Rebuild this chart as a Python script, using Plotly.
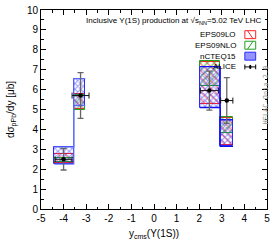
import plotly.graph_objects as go

# ---- data ----
bin_edges_bwd = [-4.41, -3.55, -3.04]
bin_edges_fwd = [2.03, 2.93, 3.5]

eps09lo_low = [2.30, 5.02, 5.30, 3.20]
eps09lo_high = [2.78, 5.80, 7.38, 4.55]
eps09nlo_low = [2.35, 4.97, 6.20, 3.80]
eps09nlo_high = [2.55, 5.72, 7.45, 4.62]
ncteq15_low = [2.26, 5.20, 5.10, 3.15]
ncteq15_high = [3.12, 6.55, 7.15, 4.48]

alice_y = [-4.0, -3.25, 2.45, 3.22]
alice_sigma = [2.50, 5.70, 5.95, 5.45]
alice_err = [0.54, 1.15, 0.98, 1.15]
alice_xerr = [0.375, 0.375, 0.40, 0.27]

xticks = [-5, -4, -3, -2, -1, 0, 1, 2, 3, 4, 5]
yticks = list(range(0, 11))

# bins
lefts = bin_edges_bwd[:-1] + bin_edges_fwd[:-1]
rights = bin_edges_bwd[1:] + bin_edges_fwd[1:]
centers = [(a + b) / 2 for a, b in zip(lefts, rights)]
widths = [b - a for a, b in zip(lefts, rights)]

fig = go.Figure()


def band(low, high, color, shape, size, solidity, name):
    fig.add_trace(go.Bar(
        x=centers, y=[h - l for l, h in zip(low, high)], base=low, width=widths,
        marker=dict(color="rgba(0,0,0,0)",
                    line=dict(color=color, width=1),
                    pattern=dict(shape=shape, fgcolor=color, bgcolor="rgba(0,0,0,0)",
                                 size=size, solidity=solidity, fillmode="overlay")),
        name=name, showlegend=False, hoverinfo="skip"))


band(eps09lo_low, eps09lo_high, "#ff2020", "\\", 5, 0.3, "EPS09LO")
band(eps09nlo_low, eps09nlo_high, "#20a020", "/", 5, 0.3, "EPS09NLO")
band(ncteq15_low, ncteq15_high, "#2a2aff", "x", 4, 0.45, "nCTEQ15")

# step outlines of the nCTEQ15 band
for sl in (slice(0, 2), slice(2, 4)):
    xs = []
    yl = []
    yh = []
    for l, r, lo, hi in zip(lefts[sl], rights[sl], ncteq15_low[sl], ncteq15_high[sl]):
        xs += [l, r]
        yl += [lo, lo]
        yh += [hi, hi]
    col = "rgba(90,110,255,0.9)" if sl.start == 0 else "#1010ee"
    for ys in (yl, yh):
        fig.add_trace(go.Scatter(x=xs, y=ys, mode="lines", line=dict(color=col, width=1.3),
                                 showlegend=False, hoverinfo="skip"))

# ALICE points
fig.add_trace(go.Scatter(
    x=alice_y, y=alice_sigma, mode="markers",
    marker=dict(color="black", size=4.5),
    error_y=dict(type="data", array=alice_err, color="#666666", thickness=1.3, width=3),
    error_x=dict(type="data", array=alice_xerr, color="#111111", thickness=1, width=3),
    showlegend=False, name="ALICE"))

axis_common = dict(showline=True, linecolor="black", linewidth=1, mirror="allticks",
                   ticks="inside", ticklen=5, tickcolor="black", showgrid=False,
                   zeroline=False, ticklabeloverflow="allow",
                   tickfont=dict(family="Liberation Sans, Arial", size=10, color="black"),
                   minor=dict(ticks="inside", ticklen=2.5, nticks=5, tickcolor="black"))

fig.update_xaxes(range=[-5, 5], tickvals=xticks, ticktext=[str(v) for v in xticks],
                 **axis_common)
fig.update_yaxes(range=[0, 10], tickvals=yticks, ticktext=[str(v) for v in yticks],
                 **axis_common)

ann = []
ann.append(dict(text="Inclusive Υ(1S) production at √s<sub>NN</sub>=5.02 TeV LHC",
                x=0.985, y=0.945, xref="paper", yref="paper", xanchor="right", yanchor="middle",
                showarrow=False, font=dict(family="Liberation Sans, Arial", size=8, color="black")))
ann.append(dict(text="HELAC-Onia 2.0", x=1.022, y=0.575, xref="paper", yref="paper",
                textangle=-90, showarrow=False,
                font=dict(family="DejaVu Sans Mono, monospace", size=7, color="#999999")))
ann.append(dict(text="dσ<sub>pPb</sub>/dy [μb]", x=-0.13, y=0.5, xref="paper", yref="paper",
                textangle=-90, showarrow=False, xanchor="center", yanchor="middle",
                font=dict(family="Liberation Sans, Arial", size=10, color="black")))
ann.append(dict(text="y<sub>cms</sub>(Υ(1S))", x=0.5, y=-0.125, xref="paper", yref="paper",
                showarrow=False, xanchor="center", yanchor="middle",
                font=dict(family="Liberation Sans, Arial", size=10, color="black")))

# custom legend (text left, key right)
leg_names = ["EPS09LO", "EPS09NLO", "nCTEQ15", "ALICE"]
leg_colors = ["#ff2020", "#20a020", "#2a2aff", "black"]
leg_y = [0.876, 0.823, 0.768, 0.714]
shapes = []
kx0, kx1 = 0.902, 0.950
for name, col, yy in zip(leg_names, leg_colors, leg_y):
    ann.append(dict(text=name, x=0.872, y=yy, xref="paper", yref="paper", xanchor="right",
                    yanchor="middle", showarrow=False,
                    font=dict(family="Liberation Sans, Arial", size=8, color="black")))
    h = 0.02
    if name == "ALICE":
        shapes.append(dict(type="line", xref="paper", yref="paper", x0=kx0, x1=kx1, y0=yy, y1=yy,
                           line=dict(color="black", width=1)))
        for xx in (kx0, kx1):
            shapes.append(dict(type="line", xref="paper", yref="paper", x0=xx, x1=xx,
                               y0=yy - 0.012, y1=yy + 0.012, line=dict(color="black", width=1)))
        shapes.append(dict(type="circle", xref="paper", yref="paper", x0=0.921, x1=0.931,
                           y0=yy - 0.011, y1=yy + 0.011, fillcolor="black",
                           line=dict(color="black", width=0)))
    else:
        fill = "rgba(60,60,255,0.55)" if name == "nCTEQ15" else "rgba(0,0,0,0)"
        shapes.append(dict(type="rect", xref="paper", yref="paper", x0=kx0, x1=kx1,
                           y0=yy - h, y1=yy + h, fillcolor=fill, line=dict(color=col, width=1)))
        if name == "EPS09LO":
            shapes.append(dict(type="line", xref="paper", yref="paper", x0=kx0 + 0.012, x1=kx1 - 0.012,
                               y0=yy + h, y1=yy - h, line=dict(color=col, width=1)))
        elif name == "EPS09NLO":
            shapes.append(dict(type="line", xref="paper", yref="paper", x0=kx0 + 0.012, x1=kx1 - 0.012,
                               y0=yy - h, y1=yy + h, line=dict(color=col, width=1)))

fig.update_layout(
    width=274, height=241,
    margin=dict(l=41, r=7, t=4, b=32),
    plot_bgcolor="white", paper_bgcolor="white",
    barmode="overlay", bargap=0,
    showlegend=False,
    annotations=ann, shapes=shapes,
    font=dict(family="Liberation Sans, Arial", size=10, color="black"),
)

fig.write_html("out.html", config={"displayModeBar": False},
               post_script="document.body.style.margin='0';document.body.style.overflow='hidden';")
